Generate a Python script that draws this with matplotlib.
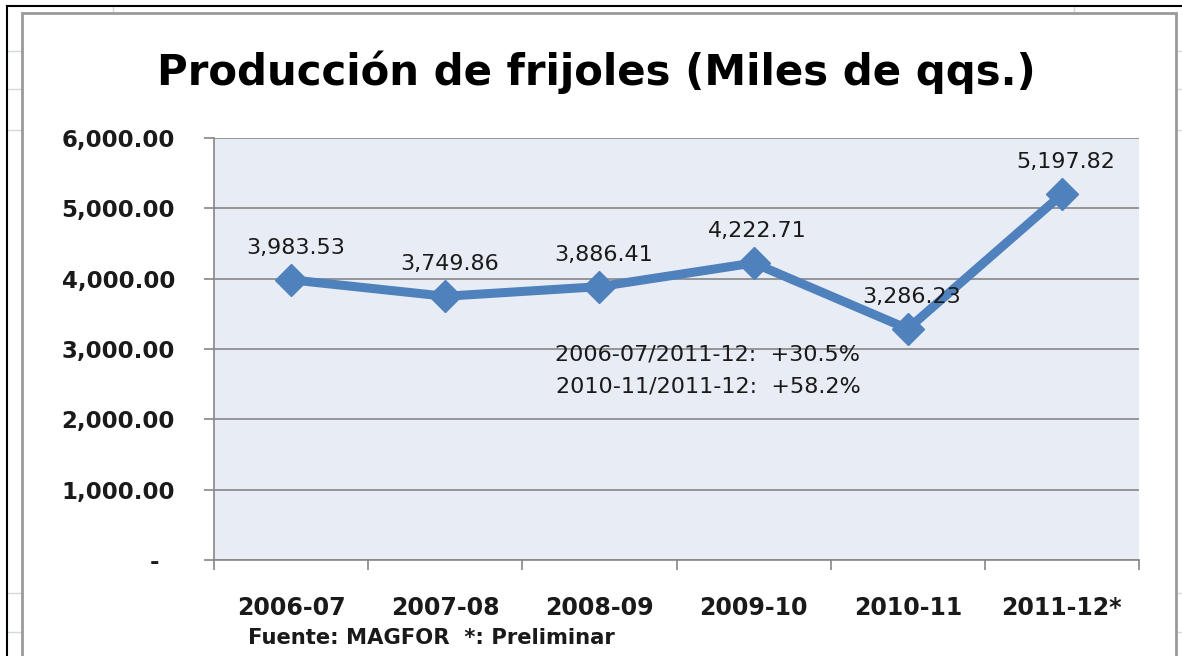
import matplotlib
matplotlib.use("Agg")
import matplotlib.pyplot as plt
from matplotlib.patches import Rectangle
from matplotlib.lines import Line2D

categories = ["2006-07", "2007-08", "2008-09", "2009-10", "2010-11", "2011-12*"]
values = [3983.53, 3749.86, 3886.41, 4222.71, 3286.23, 5197.82]
yticks = [0, 1000, 2000, 3000, 4000, 5000, 6000]
ytick_labels = ["-  ", "1,000.00", "2,000.00", "3,000.00", "4,000.00", "5,000.00", "6,000.00"]
title = "Producción de frijoles (Miles de qqs.)"
notes = ["2006-07/2011-12:  +30.5%", "2010-11/2011-12:  +58.2%"]
source = "Fuente: MAGFOR  *: Preliminar"

plt.rcParams['font.family'] = ['DejaVu Sans']

W, H = 1182, 656
fig = plt.figure(figsize=(W / 100, H / 100), dpi=100)

def fx(x):
    return x / W

def fy(y):
    return 1 - y / H

# spreadsheet background gridlines
for y in [51, 89, 130, 593, 632]:
    fig.add_artist(Line2D([fx(8), fx(22)], [fy(y), fy(y)], color="#d0d7e5", lw=1, zorder=-3))
    fig.add_artist(Line2D([fx(1176), fx(1182)], [fy(y), fy(y)], color="#d0d7e5", lw=1, zorder=-3))
for x in [113, 1074]:
    fig.add_artist(Line2D([fx(x), fx(x)], [fy(6), fy(13)], color="#d0d7e5", lw=1, zorder=-3))
# black frame
fig.add_artist(Line2D([fx(7), fx(7)], [fy(6), 0], color="black", lw=1.5, zorder=-3))
fig.add_artist(Line2D([fx(7), 1], [fy(6), fy(6)], color="black", lw=1.5, zorder=-3))
# chart area
fig.add_artist(Rectangle((fx(22), -0.05), fx(1176) - fx(22), fy(13) + 0.05,
                         facecolor="white", edgecolor="#9a9a9a", lw=2, zorder=-2))

ax = fig.add_axes([fx(214), fy(560), fx(1139) - fx(214), fy(138) - fy(560)])
ax.set_zorder(1)
ax.set_facecolor("#e8ecf4")
x = list(range(len(categories)))
ax.plot(x, values, color="#4f81bd", lw=6.5, marker="D", markersize=16,
        markerfacecolor="#4f81bd", markeredgecolor="#4f81bd", zorder=3,
        solid_joinstyle="miter")
ax.set_xlim(-0.5, len(categories) - 0.5)
ax.set_ylim(0, 6000)
ax.set_yticks(yticks)
ax.set_yticklabels(ytick_labels, fontsize=16.5, fontweight="bold", color="#1a1a1a")
ax.set_xticks(x)
ax.set_xticklabels(categories, fontsize=17, fontweight="bold", color="#1a1a1a")
ax.tick_params(axis="x", length=0, pad=26)
ax.tick_params(axis="y", length=7, width=1.2, color="#868686", pad=21)
ax.set_xticks([i - 0.5 for i in range(len(categories) + 1)], minor=True)
ax.tick_params(axis="x", which="minor", length=7, width=1.2, color="#868686", direction="out")
ax.grid(axis="y", color="#868686", lw=1.2)
ax.set_axisbelow(True)
for s in ["top", "right"]:
    ax.spines[s].set_visible(False)
for s in ["left", "bottom"]:
    ax.spines[s].set_color("#868686")
    ax.spines[s].set_linewidth(1.2)

for xi, v in zip(x, values):
    ax.annotate(f"{v:,.2f}", (xi, v), xytext=(3, 23), textcoords="offset points",
                ha="center", va="center", fontsize=16, color="#1a1a1a")

ax.text(0.534, 0.486, notes[0], transform=ax.transAxes, ha="center", va="center",
        fontsize=16, color="#1a1a1a")
ax.text(0.534, 0.412, notes[1], transform=ax.transAxes, ha="center", va="center",
        fontsize=16, color="#1a1a1a")

fig.text(fx(596), fy(72), title, ha="center", va="center", fontsize=30.2, fontweight="bold")
fig.text(fx(248), fy(638), source, ha="left", va="center", fontsize=15.2, fontweight="bold",
         color="#1a1a1a")

fig.savefig("out.png", dpi=100)
